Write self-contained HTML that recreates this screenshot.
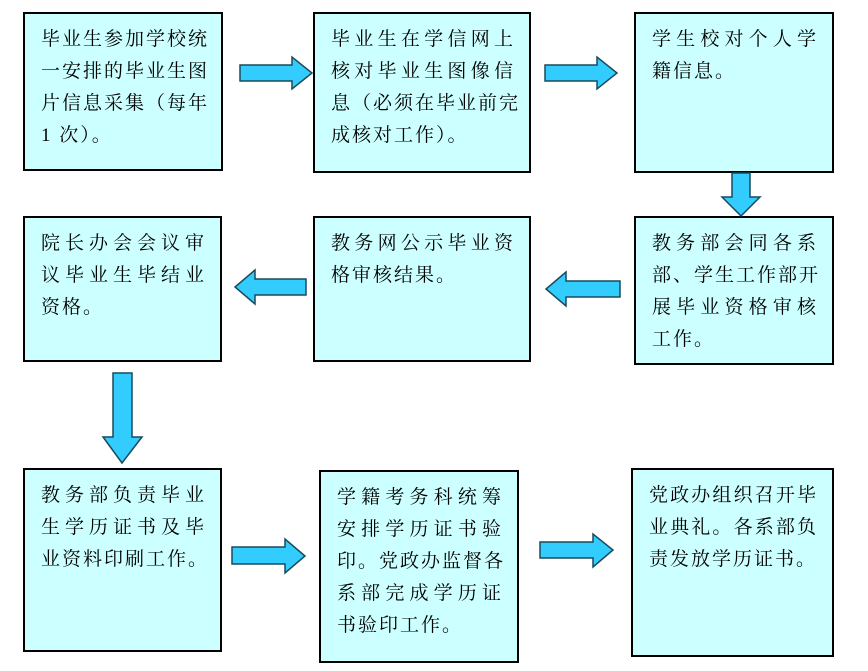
<!DOCTYPE html>
<html><head><meta charset="utf-8"><style>
body{margin:0;width:868px;height:671px;background:#fff;position:relative;overflow:hidden}
.b{position:absolute;background:#ccffff;border:2px solid #000;box-sizing:border-box;font-family:"Liberation Serif","Noto Serif CJK SC",serif;font-size:19px;line-height:32px;padding:10px 14px 0 16px;color:#000;white-space:nowrap}
.b div.j{text-align:justify;text-align-last:justify}
.b div{letter-spacing:2px}
svg{position:absolute;left:0;top:0}
</style></head><body>
<div class="b" style="left:23px;top:12px;width:200px;height:159px"><div class="j">毕业生参加学校统</div><div class="j">一安排的毕业生图</div><div class="j">片信息采集（每年</div><div>1 次）。</div></div>
<div class="b" style="left:313px;top:12px;width:218px;height:161px"><div class="j">毕业生在学信网上</div><div class="j">核对毕业生图像信</div><div class="j">息（必须在毕业前完</div><div>成核对工作）。</div></div>
<div class="b" style="left:634px;top:12px;width:200px;height:161px"><div class="j">学生校对个人学</div><div>籍信息。</div></div>
<div class="b" style="left:23px;top:216px;width:199px;height:146px"><div class="j">院长办会会议审</div><div class="j">议毕业生毕结业</div><div>资格。</div></div>
<div class="b" style="left:313px;top:216px;width:218px;height:146px"><div class="j">教务网公示毕业资</div><div>格审核结果。</div></div>
<div class="b" style="left:634px;top:216px;width:200px;height:149px"><div class="j">教务部会同各系</div><div class="j">部、学生工作部开</div><div class="j">展毕业资格审核</div><div>工作。</div></div>
<div class="b" style="left:23px;top:468px;width:199px;height:184px"><div class="j">教务部负责毕业</div><div class="j">生学历证书及毕</div><div>业资料印刷工作。</div></div>
<div class="b" style="left:319px;top:470px;width:200px;height:193px"><div class="j">学籍考务科统筹</div><div class="j">安排学历证书验</div><div class="j">印。党政办监督各</div><div class="j">系部完成学历证</div><div>书验印工作。</div></div>
<div class="b" style="left:631px;top:468px;width:203px;height:189px"><div class="j">党政办组织召开毕</div><div class="j">业典礼。各系部负</div><div>责发放学历证书。</div></div>
<svg width="868" height="671" fill="#33ccff" stroke="#1a4a5a" stroke-width="1.5">
<polygon points="240,65 292,65 292,57 312,73 292,89 292,81 240,81"/>
<polygon points="545,65 597,65 597,57 617,73 597,89 597,81 545,81"/>
<polygon points="732,173 750,173 750,197 760,197 741,216 722,197 732,197"/>
<polygon points="620,281 566,281 566,272 546,289 566,306 566,297 620,297"/>
<polygon points="306,279 255,279 255,270 235,287 255,304 255,295 306,295"/>
<polygon points="113,373 132,373 132,437 142,437 122,463 103,437 113,437"/>
<polygon points="232,547 285,547 285,539 305,556 285,573 285,564 232,564"/>
<polygon points="540,542 593,542 593,534 613,550 593,567 593,558 540,558"/>
</svg>
</body></html>
